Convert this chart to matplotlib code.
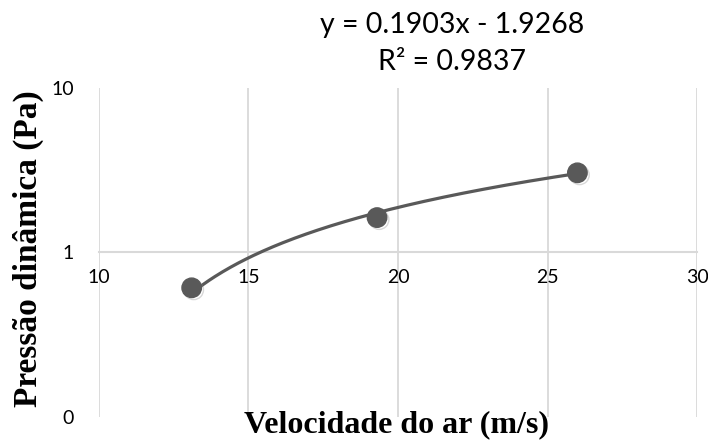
import numpy as np
import matplotlib.pyplot as plt
import matplotlib.patheffects as pe

# data
velocidade = [13.1, 19.3, 26.0]
pressao = [0.61, 1.63, 3.05]
slope = 0.1903
intercept = -1.9268
r2 = 0.9837

x_ticks = [10, 15, 20, 25, 30]
y_ticks = [0.1, 1, 10]
y_tick_labels = ["0", "1", "10"]

grid_col = "#d9d9d9"
mark_col = "#595959"

fig = plt.figure(figsize=(7.08, 4.41), dpi=100)
ax = fig.add_axes([0.1398, 0.0544, 0.8447, 0.7461])

ax.set_yscale("log")
ax.set_xlim(10, 30)
ax.set_ylim(0.1, 10)

# linear trendline drawn on the log axis
xt = np.linspace(velocidade[0], velocidade[-1], 200)
ax.plot(xt, slope * xt + intercept, color=mark_col, lw=2.3, zorder=3, solid_capstyle="round")

ax.plot(velocidade, pressao, "o", color=mark_col, ms=14, zorder=4,
        path_effects=[pe.SimpleLineShadow(offset=(1.5, -1.5), shadow_color="gray", alpha=0.3),
                      pe.Normal()])

# axis look: x axis crosses at y = 1
for s in ["top", "right", "left"]:
    ax.spines[s].set_visible(False)
ax.spines["bottom"].set_position(("data", 1))
ax.spines["bottom"].set_color(grid_col)
ax.spines["bottom"].set_linewidth(1.5)

ax.set_xticks(x_ticks)
ax.set_yticks(y_ticks)
ax.set_yticklabels(y_tick_labels)
ax.yaxis.set_minor_locator(plt.NullLocator())
ax.tick_params(axis="both", length=0, labelsize=14, labelcolor="black")
ax.tick_params(axis="x", pad=12)
ax.tick_params(axis="y", pad=18)
for lab in ax.get_xticklabels() + ax.get_yticklabels():
    lab.set_family("Lato")
ax.grid(axis="x", color=grid_col, lw=1.3)
ax.set_axisbelow(True)

fig.text(452 / 708, 1 - 25 / 441, f"y = {slope:.4f}x - {abs(intercept):.4f}",
         ha="center", va="center", fontsize=20.5, family="Lato")
fig.text(452 / 708, 1 - 62 / 441, f"R² = {r2:.4f}",
         ha="center", va="center", fontsize=20.5, family="Lato")

fig.text(397 / 708, 1 - 425 / 441, "Velocidade do ar (m/s)", ha="center", va="center",
         fontsize=23, fontweight="bold", family="Liberation Serif")
fig.text(28 / 708, 1 - 249 / 441, "Pressão dinâmica (Pa)", ha="center", va="center",
         rotation=90, fontsize=24, fontweight="bold", family="Liberation Serif")

fig.savefig("out.png", dpi=100)
